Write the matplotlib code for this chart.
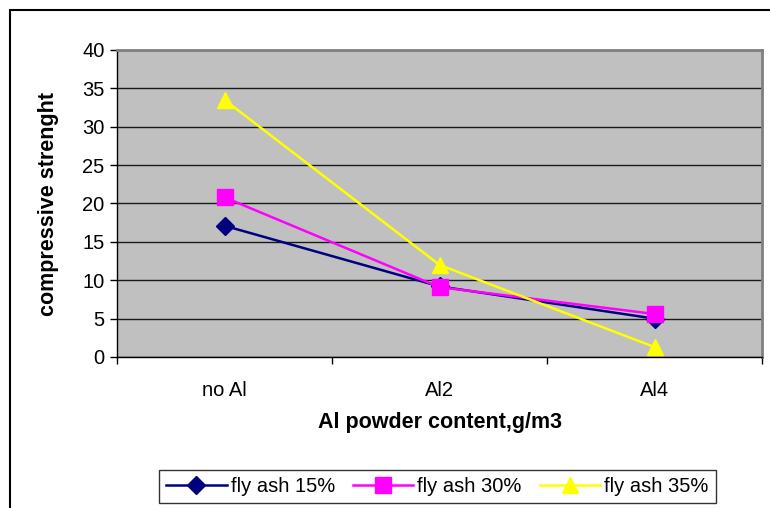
import matplotlib.pyplot as plt
import matplotlib.patches as patches

plt.rcParams['font.family'] = ['Liberation Sans', 'DejaVu Sans']

categories = ['no Al', 'Al2', 'Al4']
fly_ash_15 = [17.1, 9.2, 5.0]
fly_ash_30 = [20.8, 9.1, 5.6]
fly_ash_35 = [33.5, 12.0, 1.3]
y_ticks = [0, 5, 10, 15, 20, 25, 30, 35, 40]

fig = plt.figure(figsize=(7.7, 5.08), dpi=100)

# outer chart frame (only left and top edges fall inside the image)
fig.patches.append(patches.Rectangle((10 / 770, -0.1), 1.2, (508 - 10) / 508 + 0.1,
                                     transform=fig.transFigure, fill=False,
                                     edgecolor='black', linewidth=1.5))

ax = fig.add_axes([117 / 770, (508 - 357) / 508, 645 / 770, 307 / 508])
ax.set_facecolor('#C0C0C0')

x = range(len(categories))
ax.plot(x, fly_ash_15, color='#000080', marker='D', markersize=9, linewidth=1.8,
        label='fly ash 15%', zorder=3)
ax.plot(x, fly_ash_30, color='#FF00FF', marker='s', markersize=11, linewidth=1.8,
        label='fly ash 30%', zorder=4)
ax.plot(x, fly_ash_35, color='#FFFF00', marker='^', markersize=12, linewidth=1.8,
        label='fly ash 35%', zorder=5)

ax.set_xlim(-0.5, 2.5)
ax.set_ylim(0, 40)
ax.set_yticks(y_ticks)
ax.set_xticks([-0.5, 0.5, 1.5, 2.5])
ax.set_xticklabels([])
ax.set_xticks(list(x), labels=categories, minor=True)
ax.tick_params(axis='x', which='minor', length=0, pad=17, labelsize=14.5)
ax.tick_params(axis='x', which='major', length=5, direction='out', width=1)
ax.tick_params(axis='y', length=5, direction='out', width=1, labelsize=14.5, pad=4)

ax.yaxis.grid(True, color='#1a1a1a', linewidth=1)
ax.set_axisbelow(True)

for side in ['top', 'right']:
    ax.spines[side].set_color('#808080')
    ax.spines[side].set_linewidth(2)
for side in ['left', 'bottom']:
    ax.spines[side].set_color('black')
    ax.spines[side].set_linewidth(1)

ax.set_xlabel('Al powder content,g/m3', fontsize=15.5, fontweight='bold', labelpad=9)
ax.set_ylabel('compressive strenght', fontsize=15.5, fontweight='bold', labelpad=17)

leg = fig.legend(loc='center', bbox_to_anchor=(437.5 / 770, 1 - 486.5 / 508), ncol=3,
                 fontsize=14.5, frameon=True, fancybox=False, edgecolor='black',
                 handlelength=3, handletextpad=0.2, columnspacing=0.9,
                 borderpad=0.35, borderaxespad=0)
leg.get_frame().set_linewidth(1)

fig.savefig('out.png', dpi=100)
